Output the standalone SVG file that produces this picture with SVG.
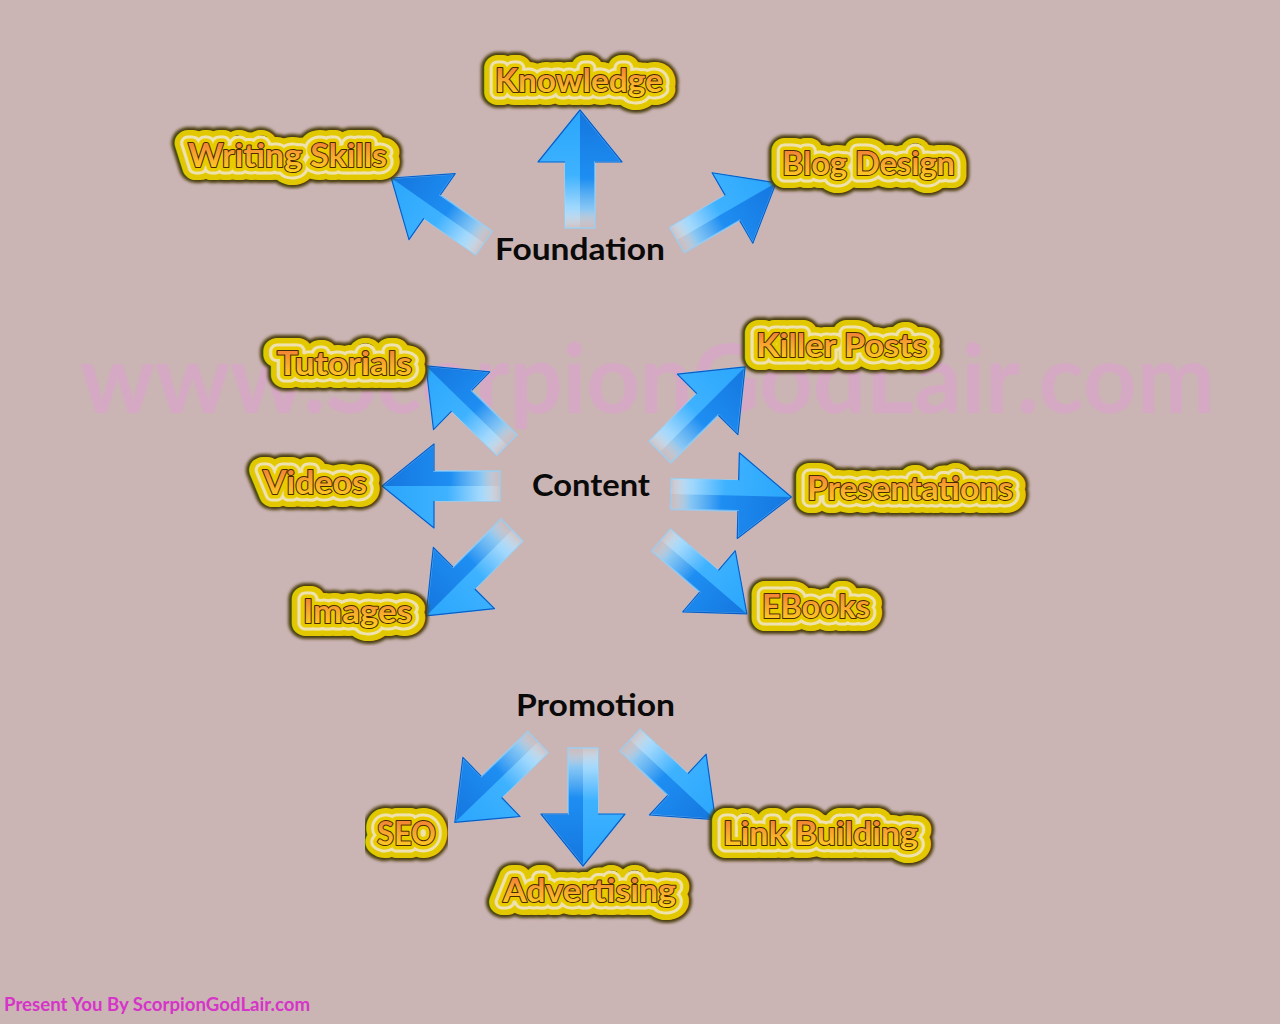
<svg xmlns="http://www.w3.org/2000/svg" xmlns:xlink="http://www.w3.org/1999/xlink" width="1280" height="1024" viewBox="0 0 1280 1024">
<style>
  .lbl { font-family: Lato, "Open Sans", "Liberation Sans", sans-serif; font-weight: 700; font-size: 32px; stroke-linejoin: round; stroke-linecap: round; }
  .h0 { fill: #4a3c08; stroke: #4a3c08; stroke-width: 32px; }
  .h1 { fill: #e2c800; stroke: #e2c800; stroke-width: 26px; }
  .h2 { fill: #efe2ae; stroke: #efe2ae; stroke-width: 15px; }
  .h3 { fill: #e8cc00; stroke: #e8cc00; stroke-width: 9px; }
  .tx { fill: url(#txtGrad); stroke: #4a2a00; stroke-width: 2px; paint-order: stroke; }
  .hub { font-family: Lato, "Open Sans", "Liberation Sans", sans-serif; font-weight: 700; font-size: 31px; fill: #0a0a0a; }
  .wm { font-family: Lato, "Open Sans", "Liberation Sans", sans-serif; font-weight: 700; font-size: 96px; fill: #d5a9c4; }
  .foot { font-family: Lato, "Open Sans", "Liberation Sans", sans-serif; font-weight: 700; font-size: 18px; fill: #d535c8; }
</style>
<defs>
  <linearGradient id="txtGrad" x1="0" y1="0" x2="0" y2="1">
    <stop offset="0" stop-color="#ee6a3a"/>
    <stop offset="0.45" stop-color="#f6a030"/>
    <stop offset="1" stop-color="#ffd61e"/>
  </linearGradient>
  <linearGradient id="arrDark" x1="0" y1="0" x2="1" y2="0">
    <stop offset="0" stop-color="#cfeeff" stop-opacity="0.1"/>
    <stop offset="0.16" stop-color="#7ccaff" stop-opacity="0.85"/>
    <stop offset="0.42" stop-color="#1e8ef2"/>
    <stop offset="1" stop-color="#1476de"/>
  </linearGradient>
  <linearGradient id="arrLight" x1="0" y1="0" x2="1" y2="0">
    <stop offset="0" stop-color="#e6f6ff" stop-opacity="0.1"/>
    <stop offset="0.18" stop-color="#a6dcff" stop-opacity="0.8"/>
    <stop offset="0.45" stop-color="#3eb2ff"/>
    <stop offset="1" stop-color="#2aa6fc"/>
  </linearGradient>
  <filter id="soft" x="-20%" y="-40%" width="140%" height="180%">
    <feGaussianBlur stdDeviation="1.6"/>
  </filter>
  <g id="arrow">
    <polygon points="0,-15 66,-15 66,-42 118,0 66,42 66,15 0,15" fill="url(#arrDark)" stroke="#8fd4ff" stroke-width="2" stroke-opacity="0.6" stroke-linejoin="round"/>
    <polygon points="0,-15 66,-15 66,-42 118,0 0,0" fill="url(#arrLight)"/>
    <polyline points="66,-15 66,-42 118,0 66,42 66,15" fill="none" stroke="#0c5cc4" stroke-width="1.2" stroke-linejoin="round"/>
  </g>
  <text id="t-knowledge" x="495" y="92" textLength="168" lengthAdjust="spacingAndGlyphs">Knowledge</text>
  <text id="t-writing" x="188" y="167" textLength="199" lengthAdjust="spacingAndGlyphs">Writing Skills</text>
  <text id="t-blog" x="782" y="175" textLength="173" lengthAdjust="spacingAndGlyphs">Blog Design</text>
  <text id="t-tutorials" x="277" y="375" textLength="135" lengthAdjust="spacingAndGlyphs">Tutorials</text>
  <text id="t-videos" x="263" y="494" textLength="104" lengthAdjust="spacingAndGlyphs">Videos</text>
  <text id="t-images" x="303" y="623" textLength="109" lengthAdjust="spacingAndGlyphs">Images</text>
  <text id="t-killer" x="756" y="357" textLength="171" lengthAdjust="spacingAndGlyphs">Killer Posts</text>
  <text id="t-present" x="807" y="500" textLength="206" lengthAdjust="spacingAndGlyphs">Presentations</text>
  <text id="t-ebooks" x="762" y="618" textLength="108" lengthAdjust="spacingAndGlyphs">EBooks</text>
  <text id="t-seo" x="377" y="845" textLength="59" lengthAdjust="spacingAndGlyphs">SEO</text>
  <text id="t-adv" x="503" y="902" textLength="173" lengthAdjust="spacingAndGlyphs">Advertising</text>
  <text id="t-link" x="723" y="845" textLength="195" lengthAdjust="spacingAndGlyphs">Link Building</text>
</defs>

<rect x="0" y="0" width="1280" height="1024" fill="#cbb4b4"/>
<text class="wm" x="80" y="413" textLength="1135" lengthAdjust="spacingAndGlyphs">www.ScorpionGodLair.com</text>

<g id="connectors">
  <use href="#arrow" transform="translate(484,243) rotate(215) scale(0.96)"/>
  <use href="#arrow" transform="translate(580,228) rotate(-90) scale(1)"/>
  <use href="#arrow" transform="translate(677,240) rotate(-30) scale(0.97)"/>
  <use href="#arrow" transform="translate(507,445) rotate(224.3) scale(0.96)"/>
  <use href="#arrow" transform="translate(500,486) rotate(180) scale(1)"/>
  <use href="#arrow" transform="translate(512,530) rotate(135) scale(1.03)"/>
  <use href="#arrow" transform="translate(660,452) rotate(-45) scale(1.02)"/>
  <use href="#arrow" transform="translate(671,494) rotate(1.4) scale(1.02)"/>
  <use href="#arrow" transform="translate(661,540) rotate(40.7) scale(0.96)"/>
  <use href="#arrow" transform="translate(538,742) rotate(136) scale(0.98)"/>
  <use href="#arrow" transform="translate(583,748) rotate(90) scale(1)"/>
  <use href="#arrow" transform="translate(630,740) rotate(43) scale(0.99)"/>
</g>

<g id="n-foundation"><text class="hub" x="495" y="260" textLength="170" lengthAdjust="spacingAndGlyphs">Foundation</text></g>
<g id="n-content"><text class="hub" x="532" y="496" textLength="118" lengthAdjust="spacingAndGlyphs">Content</text></g>
<g id="n-promotion"><text class="hub" x="516" y="716" textLength="159" lengthAdjust="spacingAndGlyphs">Promotion</text></g>

<g id="n-knowledge" class="lbl"><use href="#t-knowledge" class="h0" filter="url(#soft)"/><use href="#t-knowledge" class="h1"/><use href="#t-knowledge" class="h2"/><use href="#t-knowledge" class="h3"/><use href="#t-knowledge" class="tx"/></g>
<g id="n-writing" class="lbl"><use href="#t-writing" class="h0" filter="url(#soft)"/><use href="#t-writing" class="h1"/><use href="#t-writing" class="h2"/><use href="#t-writing" class="h3"/><use href="#t-writing" class="tx"/></g>
<g id="n-blog" class="lbl"><use href="#t-blog" class="h0" filter="url(#soft)"/><use href="#t-blog" class="h1"/><use href="#t-blog" class="h2"/><use href="#t-blog" class="h3"/><use href="#t-blog" class="tx"/></g>
<g id="n-tutorials" class="lbl"><use href="#t-tutorials" class="h0" filter="url(#soft)"/><use href="#t-tutorials" class="h1"/><use href="#t-tutorials" class="h2"/><use href="#t-tutorials" class="h3"/><use href="#t-tutorials" class="tx"/></g>
<g id="n-videos" class="lbl"><use href="#t-videos" class="h0" filter="url(#soft)"/><use href="#t-videos" class="h1"/><use href="#t-videos" class="h2"/><use href="#t-videos" class="h3"/><use href="#t-videos" class="tx"/></g>
<g id="n-images" class="lbl"><use href="#t-images" class="h0" filter="url(#soft)"/><use href="#t-images" class="h1"/><use href="#t-images" class="h2"/><use href="#t-images" class="h3"/><use href="#t-images" class="tx"/></g>
<g id="n-killer" class="lbl"><use href="#t-killer" class="h0" filter="url(#soft)"/><use href="#t-killer" class="h1"/><use href="#t-killer" class="h2"/><use href="#t-killer" class="h3"/><use href="#t-killer" class="tx"/></g>
<g id="n-present" class="lbl"><use href="#t-present" class="h0" filter="url(#soft)"/><use href="#t-present" class="h1"/><use href="#t-present" class="h2"/><use href="#t-present" class="h3"/><use href="#t-present" class="tx"/></g>
<g id="n-ebooks" class="lbl"><use href="#t-ebooks" class="h0" filter="url(#soft)"/><use href="#t-ebooks" class="h1"/><use href="#t-ebooks" class="h2"/><use href="#t-ebooks" class="h3"/><use href="#t-ebooks" class="tx"/></g>
<g id="n-seo" class="lbl"><use href="#t-seo" class="h0" filter="url(#soft)"/><use href="#t-seo" class="h1"/><use href="#t-seo" class="h2"/><use href="#t-seo" class="h3"/><use href="#t-seo" class="tx"/></g>
<g id="n-adv" class="lbl"><use href="#t-adv" class="h0" filter="url(#soft)"/><use href="#t-adv" class="h1"/><use href="#t-adv" class="h2"/><use href="#t-adv" class="h3"/><use href="#t-adv" class="tx"/></g>
<g id="n-link" class="lbl"><use href="#t-link" class="h0" filter="url(#soft)"/><use href="#t-link" class="h1"/><use href="#t-link" class="h2"/><use href="#t-link" class="h3"/><use href="#t-link" class="tx"/></g>

<text class="foot" x="4" y="1011" textLength="306" lengthAdjust="spacingAndGlyphs">Present You By ScorpionGodLair.com</text>
</svg>
